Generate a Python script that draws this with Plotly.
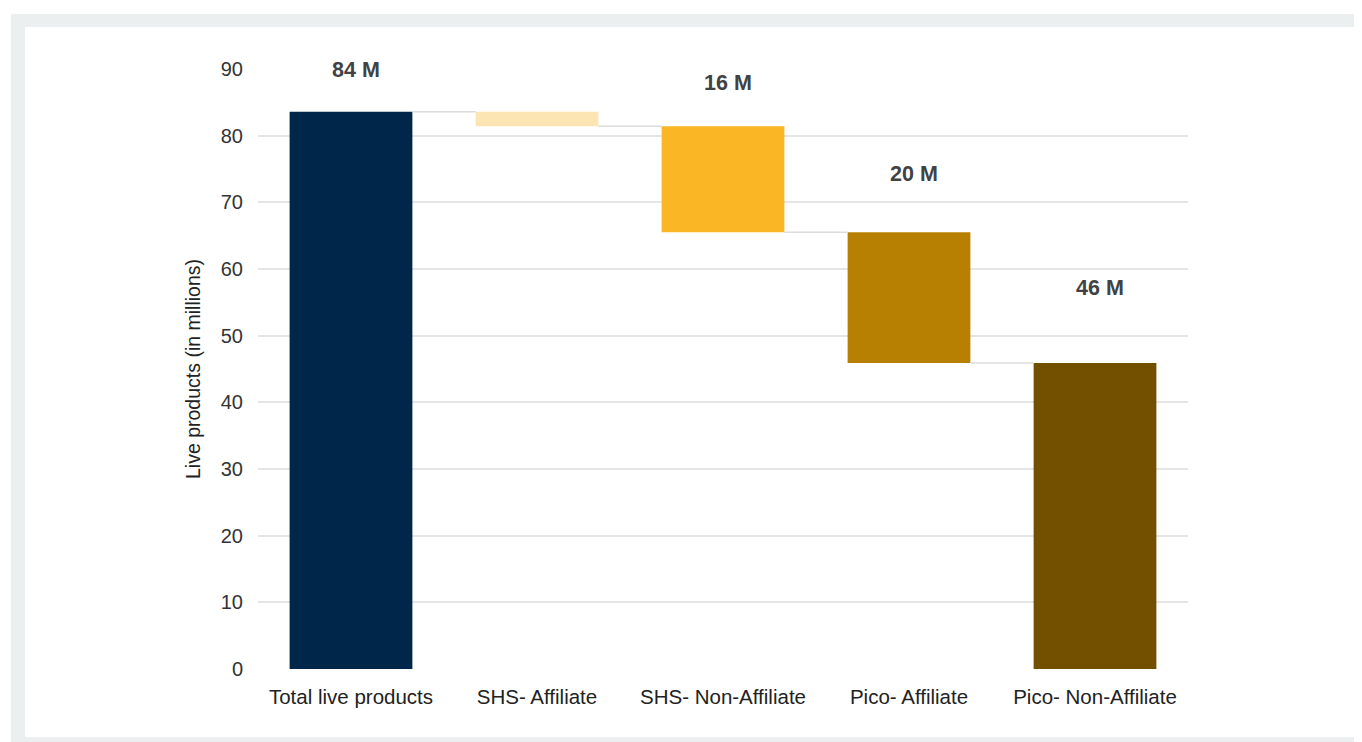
import plotly.graph_objects as go

# ---- data ----
categories = ["Total live products", "SHS- Affiliate", "SHS- Non-Affiliate",
              "Pico- Affiliate", "Pico- Non-Affiliate"]
total_live = 83.6
drops = [2.2, 15.9, 19.6]          # SHS-Aff, SHS-NonAff, Pico-Aff
value_labels = ["84 M", "2 M", "16 M", "20 M", "46 M"]
label_y = [89.9, 90.2, 87.9, 74.3, 57.2]
bar_colors = ["#00264a", "#fde5b3", "#fab624", "#b88002", "#735000"]
y_ticks = [0, 10, 20, 30, 40, 50, 60, 70, 80, 90]

# ---- waterfall geometry from data ----
bases = [0]
heights = [total_live]
level = total_live
connector_levels = [level]
for d in drops:
    bases.append(level - d)
    heights.append(d)
    level -= d
    connector_levels.append(level)
bases.append(0)
heights.append(level)

# page body has an 8px default margin, so the figure is placed at (8, 8)
OFF = 8
W, H = 1362 - OFF, 742 - OFF
ml, mt = 258 - OFF, 69 - OFF
mr = (1362 - 1188)
mb = (742 - 669)
pw, ph = W - ml - mr, H - mt - mb
BAR_W = 0.66


def px_to_paper(x, y):
    # x, y are screenshot pixel coordinates
    x -= OFF
    y -= OFF
    return (x - ml) / pw, (H - mb - y) / ph


fig = go.Figure()
fig.add_trace(go.Bar(
    x=categories, y=heights, base=bases, width=BAR_W,
    marker=dict(color=bar_colors, line=dict(width=0)),
    hoverinfo="skip", showlegend=False,
))

shapes = []
# outer grey frame and inner white panel
gx0, gy0 = px_to_paper(11, 14)
gx1, gy1 = px_to_paper(1380, 760)
shapes.append(dict(type="rect", xref="paper", yref="paper", x0=gx0, y0=gy0, x1=gx1, y1=gy1,
                   fillcolor="#eceff0", line=dict(width=0), layer="below"))
wx0, wy0 = px_to_paper(25, 27)
wx1, wy1 = px_to_paper(1359, 737)
shapes.append(dict(type="rect", xref="paper", yref="paper", x0=wx0, y0=wy0, x1=wx1, y1=wy1,
                   fillcolor="white", line=dict(width=0), layer="below"))
# connectors
for i, lv in enumerate(connector_levels):
    shapes.append(dict(type="line", xref="x", yref="y",
                       x0=i + BAR_W / 2, x1=i + 1 - BAR_W / 2, y0=lv, y1=lv,
                       line=dict(color="#dcdcdc", width=1.5), layer="above"))

annotations = []
for i, (t, ly) in enumerate(zip(value_labels, label_y)):
    annotations.append(dict(x=categories[i], y=ly, xref="x", yref="y", text=t,
                            showarrow=False, xshift=5,
                            font=dict(family="Liberation Sans, Arial", size=21.5,
                                      color="#424242", weight="bold")))

fig.update_layout(
    width=W, height=H,
    margin=dict(l=ml, r=mr, t=mt, b=mb, autoexpand=False),
    paper_bgcolor="white", plot_bgcolor="rgba(0,0,0,0)",
    font=dict(family="Liberation Sans, Arial", size=20, color="#262626"),
    shapes=shapes, annotations=annotations,
    bargap=0.34,
    xaxis=dict(showgrid=False, showline=False, zeroline=False, ticks="",
               ticklabelstandoff=13, tickfont=dict(size=20.5, color="#222222")),
    yaxis=dict(range=[0, 90], tickvals=y_ticks, showgrid=True,
               gridcolor="#e5e5e5", gridwidth=1.5, zeroline=False, showline=False,
               ticks="", ticklabelstandoff=14, tickfont=dict(size=20, color="#333333"),
               title=dict(text="Live products (in millions)", standoff=14,
                          font=dict(size=19.5, color="#222222"))),
)

fig.write_html("out.html")
